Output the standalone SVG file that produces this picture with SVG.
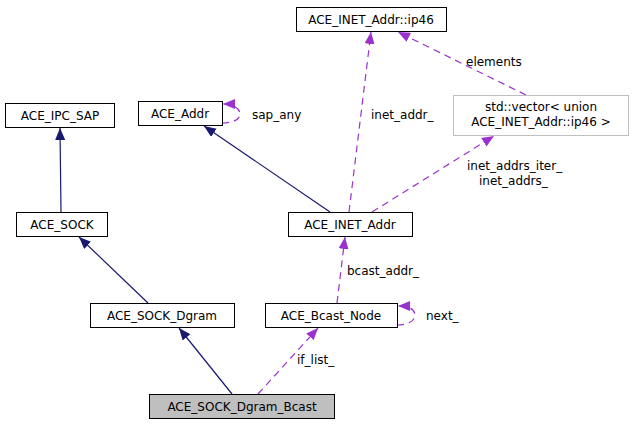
<svg xmlns="http://www.w3.org/2000/svg" width="635" height="424" viewBox="0 0 635 424">
<style>
text{font-family:"DejaVu Sans",sans-serif;font-size:12px;fill:#000}
.n rect{fill:#fff;stroke:#000;stroke-width:1}
.n text{text-anchor:middle}
.inh{fill:none;stroke:#191970;stroke-width:1.2;marker-end:url(#mi)}
.use{fill:none;stroke:#9a32cd;stroke-width:1.2;stroke-dasharray:7,5;marker-end:url(#mu)}
</style>
<defs>
<marker id="mi" viewBox="0 0 12 10" refX="12" refY="5" markerWidth="12" markerHeight="10" markerUnits="userSpaceOnUse" orient="auto"><path d="M0,0L12,5L0,10z" fill="#191970"/></marker>
<marker id="mu" viewBox="0 0 12 10" refX="12" refY="5" markerWidth="12" markerHeight="10" markerUnits="userSpaceOnUse" orient="auto"><path d="M0,0L12,5L0,10z" fill="#9a32cd"/></marker>
</defs>
<rect width="635" height="424" fill="#fff"/>
<g id="edges">
<path class="inh" d="M61,212L60,128"/>
<path class="inh" d="M148,303L79,237"/>
<path class="inh" d="M232,394L179,328"/>
<path class="inh" d="M330,212L204,126"/>
<path class="use" d="M349,212L371,32"/>
<path class="use" d="M526,95L398,32"/>
<path class="use" d="M372,212L494,136"/>
<path class="use" d="M337,303L345,237"/>
<path class="use" d="M258,394L318,328"/>
<path class="use" d="M222,123C232,123 240,120 240,114C240,108 232,104 223,104"/>
<path class="use" d="M397,325C408,325 415,321 415,315C415,309 408,306 398,306"/>
<text x="371" y="119">inet_addr_</text>
<text x="466" y="66">elements</text>
<text x="467" y="170">inet_addrs_iter_</text>
<text x="479" y="185">inet_addrs_</text>
<text x="347" y="275">bcast_addr_</text>
<text x="297" y="364">if_list_</text>
<text x="252" y="119">sap_any</text>
<text x="426" y="320">next_</text>
</g>
<g id="ip46" class="n"><rect x="296.5" y="7.5" width="150" height="24"/><text x="371" y="24">ACE_INET_Addr::ip46</text></g>
<g id="ipcsap" class="n"><rect x="5.5" y="103.5" width="109" height="24"/><text x="60" y="120">ACE_IPC_SAP</text></g>
<g id="addr" class="n"><rect x="138.5" y="101.5" width="84" height="24"/><text x="180" y="118">ACE_Addr</text></g>
<g id="vector" class="n"><rect x="453.5" y="95.5" width="175" height="40" style="stroke:#bfbfbf"/><text x="541" y="111">std::vector&lt; union</text><text x="541" y="126">ACE_INET_Addr::ip46 &gt;</text></g>
<g id="sock" class="n"><rect x="16.5" y="212.5" width="91" height="24"/><text x="62" y="229">ACE_SOCK</text></g>
<g id="inetaddr" class="n"><rect x="288.5" y="212.5" width="124" height="24"/><text x="350" y="229">ACE_INET_Addr</text></g>
<g id="dgram" class="n"><rect x="90.5" y="303.5" width="144" height="24"/><text x="162" y="320">ACE_SOCK_Dgram</text></g>
<g id="bcastnode" class="n"><rect x="265.5" y="303.5" width="132" height="24"/><text x="331" y="320">ACE_Bcast_Node</text></g>
<g id="bcast" class="n"><rect x="149.5" y="394.5" width="185" height="24" style="fill:#bfbfbf"/><text x="242" y="411">ACE_SOCK_Dgram_Bcast</text></g>
</svg>
